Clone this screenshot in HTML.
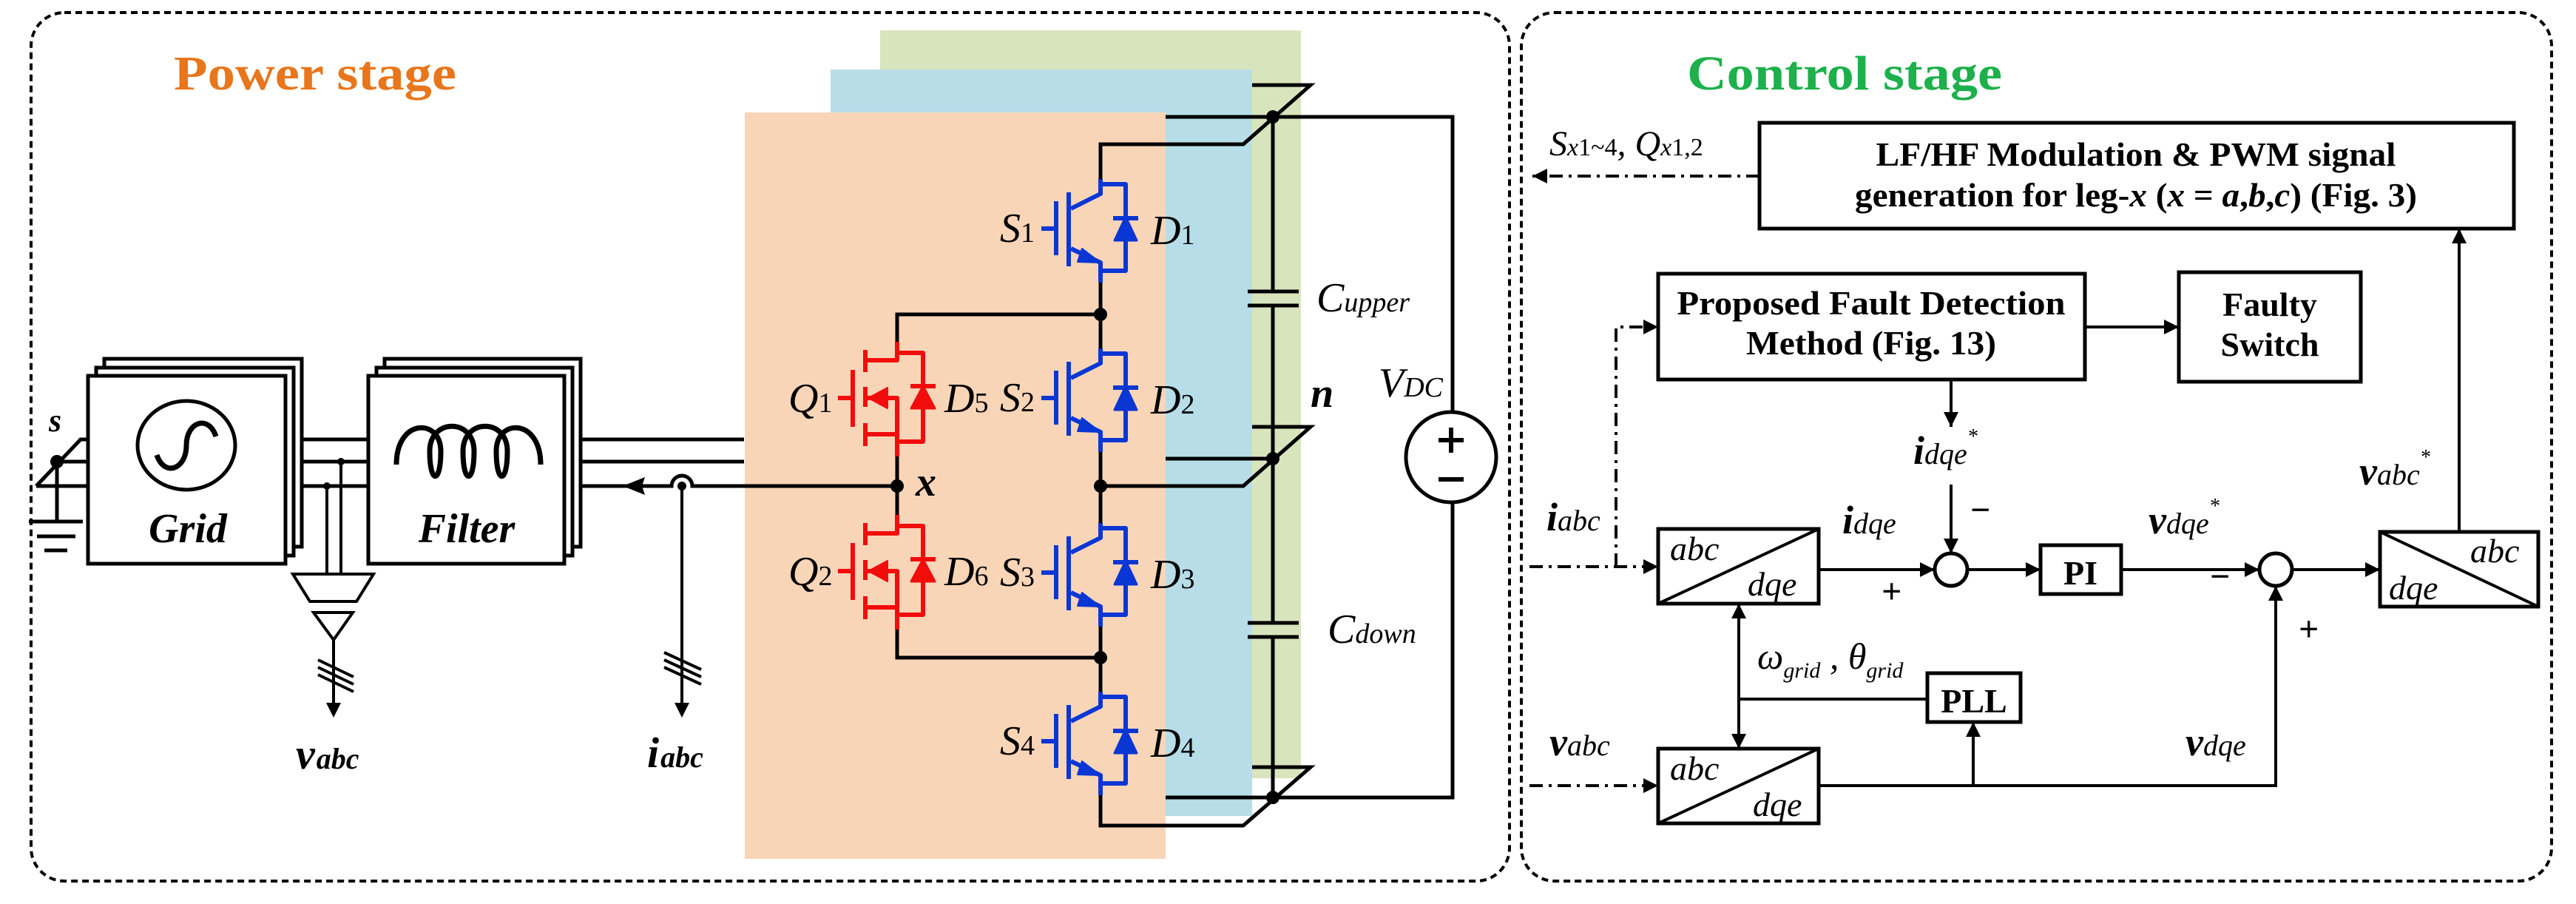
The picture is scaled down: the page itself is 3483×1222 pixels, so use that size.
<!DOCTYPE html>
<html><head><meta charset="utf-8"><style>
html,body{margin:0;padding:0;background:#fff}
svg{display:block}
text{font-family:"Liberation Serif",serif}
</style></head><body>
<svg width="3483" height="1222" viewBox="0 0 3483 1222" xmlns="http://www.w3.org/2000/svg">
<defs>
<marker id="ah" markerWidth="10" markerHeight="10" refX="9" refY="5" orient="auto" markerUnits="userSpaceOnUse"><path d="M0,0 L10,5 L0,10 z" fill="#000"/></marker>
<marker id="a2" viewBox="0 0 10 10" markerWidth="24" markerHeight="20" refX="10" refY="5" orient="auto" markerUnits="userSpaceOnUse"><path d="M0,0 L10,5 L0,10 z" fill="#000"/></marker>
<g id="igbt" fill="none" stroke="#0a36d4" stroke-width="6" stroke-linejoin="round">
 <path d="M1488,-67 V-47 L1448,-27"/>
 <path d="M1448,27 L1488,46 V73"/>
 <path d="M1488,-60 H1522 V57 H1488"/>
 <line x1="1445" y1="-49" x2="1445" y2="51"/>
 <line x1="1428" y1="-37" x2="1428" y2="36"/>
 <line x1="1408" y1="0" x2="1428" y2="0"/>
 <line x1="1505" y1="-14" x2="1539" y2="-14"/>
 <path d="M1522,-16 L1507,16 L1537,16 z" fill="#0a36d4" stroke-width="3"/>
 <path d="M1488,46 L1463,27 L1457,45 z" fill="#0a36d4" stroke-width="2"/>
</g>
<g id="mos" fill="none" stroke="#f20c0c" stroke-width="6" stroke-linejoin="round">
 <path d="M1213,-76 V-51 H1170"/>
 <path d="M1213,-61 H1248 V59 H1213"/>
 <path d="M1172,0 H1213 V79"/>
 <path d="M1170,49 H1213"/>
 <line x1="1170" y1="-65" x2="1170" y2="-35"/>
 <line x1="1170" y1="-15" x2="1170" y2="12"/>
 <line x1="1170" y1="34" x2="1170" y2="65"/>
 <line x1="1153" y1="-38" x2="1153" y2="39"/>
 <line x1="1133" y1="0" x2="1153" y2="0"/>
 <line x1="1231" y1="-16" x2="1265" y2="-16"/>
 <path d="M1248,-16 L1232,14 L1264,14 z" fill="#f20c0c" stroke-width="3"/>
 <path d="M1174,0 L1200,-14 L1200,14 z" fill="#f20c0c" stroke-width="2"/>
</g>
</defs>

<!-- dashed frames -->
<rect x="42" y="17" width="1999" height="1174" rx="45" fill="none" stroke="#000" stroke-width="4" stroke-dasharray="9 6"/>
<rect x="2057" y="17" width="1393" height="1174" rx="45" fill="none" stroke="#000" stroke-width="4" stroke-dasharray="9 6"/>

<text x="235" y="121" font-size="66" font-weight="bold" fill="#e8761c" textLength="382" lengthAdjust="spacingAndGlyphs">Power stage</text>
<text x="2281" y="121" font-size="66" font-weight="bold" fill="#1db04b" textLength="426" lengthAdjust="spacingAndGlyphs">Control stage</text>

<!-- colored panels -->
<rect x="1190" y="41" width="569" height="1011" fill="#d8e4bc"/>
<rect x="1123" y="94" width="570" height="1009" fill="#b7dde8"/>
<rect x="1007" y="152" width="569" height="1009" fill="#f9d5b8"/>

<g stroke="#000" stroke-width="5" fill="none">
<!-- three-phase lines -->
<line x1="386" y1="594" x2="498" y2="594"/>
<line x1="386" y1="624" x2="498" y2="624"/>
<line x1="386" y1="657" x2="498" y2="657"/>
<line x1="763" y1="594" x2="1006" y2="594"/>
<line x1="763" y1="624" x2="1006" y2="624"/>
<path d="M763,657 H908 A14,14 0 0 1 936,657 H1213"/>
<!-- left of grid -->
<line x1="49" y1="657" x2="119" y2="657"/>
<line x1="77" y1="624" x2="119" y2="624"/>
<path d="M49,657 L109,594 H119"/>
<line x1="77" y1="624" x2="77" y2="705"/>
<line x1="39" y1="705" x2="112" y2="705"/>
<line x1="50" y1="725" x2="102" y2="725"/>
<line x1="60" y1="744" x2="91" y2="744"/>
</g>
<path d="M842,657 L872,645 L868,657 L872,669 z" fill="#000"/>
<circle cx="77" cy="624" r="9" fill="#000"/>
<text x="66" y="583" font-size="44" font-style="italic" font-weight="bold">s</text>

<!-- Grid stacked boxes -->
<g stroke="#000" stroke-width="5" fill="#fff">
<rect x="141" y="485" width="267" height="254"/>
<rect x="130" y="497" width="267" height="254"/>
<rect x="119" y="508" width="267" height="254"/>
<rect x="520" y="485" width="265" height="254"/>
<rect x="509" y="497" width="265" height="254"/>
<rect x="498" y="508" width="265" height="254"/>
</g>
<ellipse cx="252" cy="602" rx="66" ry="60" fill="none" stroke="#000" stroke-width="5"/>
<path d="M212,615 C222,645 252,635 252,602 C252,570 282,560 292,590" fill="none" stroke="#000" stroke-width="7"/>
<text x="254" y="733" font-size="56" font-style="italic" font-weight="bold" text-anchor="middle">Grid</text>
<path d="M536,628 C536,565 596,565 596,610 C596,655 581,655 581,610 C581,565 641,565 641,610 C641,655 626,655 626,610 C626,565 686,565 686,610 C686,655 671,655 671,610 C671,565 731,565 731,628" fill="none" stroke="#000" stroke-width="7"/>
<text x="631" y="733" font-size="56" font-style="italic" font-weight="bold" text-anchor="middle">Filter</text>

<!-- voltage sensor -->
<g stroke="#000" stroke-width="4" fill="none">
<line x1="442" y1="657" x2="442" y2="775"/>
<line x1="461" y1="624" x2="461" y2="775"/>
<path d="M396,776 H505 L482,813 H419 z" fill="#fff"/>
<path d="M424,828 H477 L451,865 z"/>
<line x1="451" y1="865" x2="451" y2="955"/>
<line x1="430" y1="892" x2="478" y2="915"/>
<line x1="430" y1="902" x2="478" y2="925"/>
<line x1="430" y1="912" x2="478" y2="935"/>
<line x1="922" y1="657" x2="922" y2="955"/>
<line x1="898" y1="882" x2="948" y2="905"/>
<line x1="898" y1="892" x2="948" y2="915"/>
<line x1="898" y1="902" x2="948" y2="925"/>
</g>
<circle cx="442" cy="657" r="5" fill="#000"/><circle cx="461" cy="624" r="5" fill="#000"/><circle cx="922" cy="657" r="6" fill="#000"/>
<path d="M441,950 L451,970 L461,950 z" fill="#000"/>
<path d="M912,950 L922,970 L932,950 z" fill="#000"/>
<text x="400" y="1039" font-size="58" font-style="italic" font-weight="bold">v<tspan font-size="40" dx="2">abc</tspan></text>
<text x="875" y="1037" font-size="58" font-style="italic" font-weight="bold">i<tspan font-size="40" dx="2">abc</tspan></text>

<!-- DC bus and caps -->
<g stroke="#000" stroke-width="5" fill="none">
<path d="M1576,158 H1964 V557"/>
<path d="M1964,679 V1078 H1576"/>
<line x1="1721" y1="158" x2="1721" y2="394"/>
<line x1="1721" y1="413" x2="1721" y2="842"/>
<line x1="1721" y1="861" x2="1721" y2="1078"/>
<line x1="1687" y1="394" x2="1756" y2="394"/>
<line x1="1687" y1="413" x2="1756" y2="413"/>
<line x1="1687" y1="842" x2="1756" y2="842"/>
<line x1="1687" y1="861" x2="1756" y2="861"/>
<line x1="1576" y1="620" x2="1721" y2="620"/>
<path d="M1693,115 H1772 L1681,195 H1488 V242"/>
<path d="M1693,577 H1772 L1681,657 H1488"/>
<path d="M1693,1037 H1772 L1681,1116 H1488 V1075"/>
<!-- leg -->
<line x1="1488" y1="376" x2="1488" y2="471"/>
<line x1="1488" y1="605" x2="1488" y2="707"/>
<line x1="1488" y1="841" x2="1488" y2="935"/>
<path d="M1213,462 V425 H1488"/>
<path d="M1213,617 V696"/>
<path d="M1213,851 V889 H1488"/>
</g>
<circle cx="1962" cy="618" r="61" fill="#fff" stroke="#000" stroke-width="5"/>
<line x1="1962" y1="578" x2="1962" y2="612" stroke="#000" stroke-width="6"/>
<line x1="1945" y1="595" x2="1979" y2="595" stroke="#000" stroke-width="6"/>
<line x1="1945" y1="648" x2="1979" y2="648" stroke="#000" stroke-width="6"/>
<g fill="#000">
<circle cx="1721" cy="158" r="9"/><circle cx="1721" cy="620" r="9"/><circle cx="1721" cy="1078" r="9"/>
<circle cx="1488" cy="425" r="9"/><circle cx="1488" cy="657" r="9"/><circle cx="1488" cy="889" r="9"/>
<circle cx="1213" cy="657" r="9"/>
</g>

<use href="#igbt" transform="translate(0,309)"/>
<use href="#igbt" transform="translate(0,538)"/>
<use href="#igbt" transform="translate(0,774)"/>
<use href="#igbt" transform="translate(0,1002)"/>
<use href="#mos" transform="translate(0,538)"/>
<use href="#mos" transform="translate(0,772)"/>

<g font-size="56" font-style="italic">
<text x="1352" y="327">S<tspan font-size="38" font-style="normal">1</tspan></text>
<text x="1352" y="556">S<tspan font-size="38" font-style="normal">2</tspan></text>
<text x="1352" y="792">S<tspan font-size="38" font-style="normal">3</tspan></text>
<text x="1352" y="1020">S<tspan font-size="38" font-style="normal">4</tspan></text>
<text x="1556" y="330">D<tspan font-size="38" font-style="normal">1</tspan></text>
<text x="1556" y="559">D<tspan font-size="38" font-style="normal">2</tspan></text>
<text x="1556" y="795">D<tspan font-size="38" font-style="normal">3</tspan></text>
<text x="1556" y="1023">D<tspan font-size="38" font-style="normal">4</tspan></text>
<text x="1066" y="557">Q<tspan font-size="38" font-style="normal">1</tspan></text>
<text x="1066" y="791">Q<tspan font-size="38" font-style="normal">2</tspan></text>
<text x="1277" y="557">D<tspan font-size="38" font-style="normal">5</tspan></text>
<text x="1277" y="791">D<tspan font-size="38" font-style="normal">6</tspan></text>
<text x="1780" y="421">C<tspan font-size="38">upper</tspan></text>
<text x="1795" y="869">C<tspan font-size="38">down</tspan></text>
<text x="1864" y="536">V<tspan font-size="38">DC</tspan></text>
<text x="1238" y="670" font-weight="bold">x</text>
<text x="1772" y="550" font-weight="bold">n</text>
</g>

<!-- Control stage -->
<g stroke="#000" stroke-width="5" fill="#fff">
<rect x="2379" y="166" width="1020" height="143"/>
<rect x="2242" y="370" width="577" height="143"/>
<rect x="2946" y="368" width="246" height="148"/>
<rect x="2242" y="715" width="217" height="101"/>
<rect x="2242" y="1012" width="217" height="101"/>
<rect x="3218" y="719" width="214" height="101"/>
<rect x="2759" y="737" width="109" height="66"/>
<rect x="2606" y="910" width="126" height="66"/>
<circle cx="2638" cy="770" r="22"/>
<circle cx="3077" cy="770" r="22"/>
</g>
<g stroke="#000" stroke-width="4">
<line x1="2242" y1="816" x2="2459" y2="715"/>
<line x1="2242" y1="1113" x2="2459" y2="1012"/>
<line x1="3218" y1="719" x2="3432" y2="820"/>
</g>
<g font-size="46" font-weight="bold" text-anchor="middle">
<text x="2888" y="224" textLength="703" lengthAdjust="spacingAndGlyphs">LF/HF Modulation &amp; PWM signal</text>
<text x="2888" y="279" textLength="760" lengthAdjust="spacingAndGlyphs">generation for leg-<tspan font-style="italic">x</tspan> (<tspan font-style="italic">x</tspan> = <tspan font-style="italic">a</tspan>,<tspan font-style="italic">b</tspan>,<tspan font-style="italic">c</tspan>) (Fig. 3)</text>
<text x="2530" y="425" textLength="525" lengthAdjust="spacingAndGlyphs">Proposed Fault Detection</text>
<text x="2530" y="479" textLength="338" lengthAdjust="spacingAndGlyphs">Method (Fig. 13)</text>
<text x="3069" y="427">Faulty</text>
<text x="3069" y="481">Switch</text>
<text x="2813" y="790">PI</text>
<text x="2669" y="963">PLL</text>
</g>
<g font-size="46" font-style="italic">
<text x="2258" y="757">abc</text><text x="2363" y="805">dqe</text>
<text x="2258" y="1054">abc</text><text x="2370" y="1103">dqe</text>
<text x="3340" y="760">abc</text><text x="3230" y="810">dqe</text>
</g>
<g stroke="#000" stroke-width="4" fill="none">
<line x1="2819" y1="442" x2="2946" y2="442" marker-end="url(#a2)"/>
<line x1="2638" y1="513" x2="2638" y2="577" marker-end="url(#a2)"/>
<line x1="2638" y1="655" x2="2638" y2="748" marker-end="url(#a2)"/>
<line x1="2459" y1="770" x2="2616" y2="770" marker-end="url(#a2)"/>
<line x1="2660" y1="770" x2="2759" y2="770" marker-end="url(#a2)"/>
<line x1="2868" y1="770" x2="3055" y2="770" marker-end="url(#a2)"/>
<line x1="3099" y1="770" x2="3218" y2="770" marker-end="url(#a2)"/>
<line x1="3325" y1="719" x2="3325" y2="309" marker-end="url(#a2)"/>
<path d="M2459,1062 H3077 V792" marker-end="url(#a2)"/>
<line x1="2668" y1="1062" x2="2668" y2="976" marker-end="url(#a2)"/>
<line x1="2606" y1="945" x2="2351" y2="945"/>
<line x1="2351" y1="945" x2="2351" y2="816" marker-end="url(#a2)"/>
<line x1="2351" y1="945" x2="2351" y2="1012" marker-end="url(#a2)"/>
<g stroke-dasharray="18 8 4 8">
<line x1="2379" y1="238" x2="2072" y2="238" marker-end="url(#a2)"/>
<line x1="2068" y1="766" x2="2242" y2="766" marker-end="url(#a2)"/>
<path d="M2185,766 V442 H2242" marker-end="url(#a2)"/>
<line x1="2068" y1="1062" x2="2242" y2="1062" marker-end="url(#a2)"/>
</g>
</g>
<g font-size="54" font-style="italic" font-weight="bold">
<text x="2091" y="717">i<tspan font-size="40" font-weight="normal">abc</tspan></text>
<text x="2095" y="1021">v<tspan font-size="40" font-weight="normal">abc</tspan></text>
<text x="2491" y="721">i<tspan font-size="40" font-weight="normal">dqe</tspan></text>
<text x="2587" y="627">i<tspan font-size="40" font-weight="normal">dqe</tspan><tspan font-size="28" font-weight="normal" dy="-28">*</tspan></text>
<text x="2905" y="721">v<tspan font-size="40" font-weight="normal">dqe</tspan><tspan font-size="28" font-weight="normal" dy="-28">*</tspan></text>
<text x="3190" y="655">v<tspan font-size="40" font-weight="normal">abc</tspan><tspan font-size="28" font-weight="normal" dy="-28">*</tspan></text>
<text x="2955" y="1021">v<tspan font-size="40" font-weight="normal">dqe</tspan></text>
</g>
<text x="2095" y="210" font-size="48" font-style="italic">S<tspan font-size="34">x</tspan><tspan font-size="34" font-style="normal">1~4</tspan>, Q<tspan font-size="34">x</tspan><tspan font-size="34" font-style="normal">1,2</tspan></text>
<text x="2376" y="904" font-size="50" font-style="italic">ω<tspan font-size="30" dy="12">grid</tspan><tspan dy="-12"> , θ</tspan><tspan font-size="30" dy="12">grid</tspan></text>
<g font-size="48" font-weight="bold">
<text x="2544" y="815">+</text>
<text x="3108" y="866">+</text>
<text x="2664" y="705">−</text>
<text x="2988" y="795">−</text>
</g>
</svg>
</body></html>
